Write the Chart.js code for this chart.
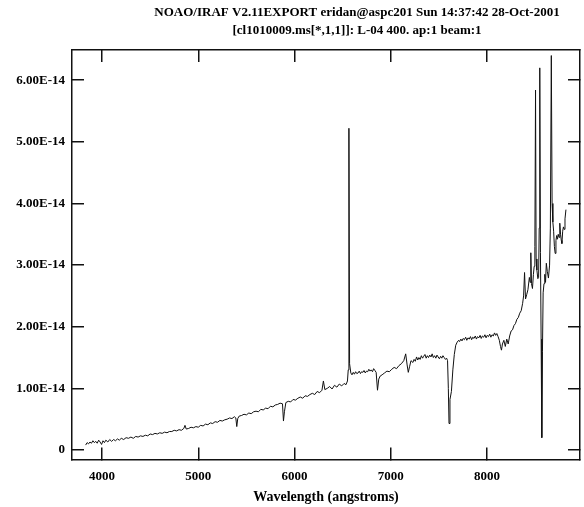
<!DOCTYPE html>
<html>
<head>
<meta charset="utf-8">
<script src="https://cdn.jsdelivr.net/npm/chart.js@4"></script>
<style>
  body { margin: 0; background: #fff; }
  canvas { display: block; }
</style>
</head>
<body>
<canvas id="specChart" width="584" height="507"></canvas>
<script>
// header lines printed above the plot
var headerLines = [
  "NOAO/IRAF V2.11EXPORT eridan@aspc201 Sun 14:37:42 28-Oct-2001",
  "[cl1010009.ms[*,1,1]]: L-04 400. ap:1 beam:1"
];
var xTitle = "Wavelength (angstroms)";

// axis ranges (flux is in units of 1E-14)
var waveRange = [3688, 8966];
var fluxRange = [-0.154, 6.49];
var waveTicks = [4000, 5000, 6000, 7000, 8000];
var fluxTicks = [0, 1, 2, 3, 4, 5, 6];

// spectrum
var wavelength = [
  3830, 3845, 3860, 3875, 3890, 3905, 3920, 3935, 3950, 3965, 3980, 3995, 4010, 4025, 4040, 4060,
  4080, 4100, 4120, 4140, 4160, 4180, 4200, 4225, 4250, 4275, 4300, 4325, 4350, 4375, 4400, 4425,
  4450, 4475, 4500, 4525, 4550, 4575, 4600, 4625, 4650, 4675, 4700, 4725, 4750, 4775, 4800, 4825,
  4850, 4862, 4875, 4900, 4925, 4950, 4975, 5000, 5025, 5050, 5075, 5100, 5125, 5150, 5175, 5200,
  5225, 5250, 5275, 5300, 5325, 5350, 5375, 5390, 5400, 5410, 5425, 5450, 5475, 5500, 5525, 5550,
  5575, 5600, 5625, 5650, 5675, 5700, 5725, 5750, 5775, 5800, 5825, 5850, 5875, 5885, 5895, 5910,
  5935, 5960, 5985, 6010, 6035, 6060, 6085, 6110, 6135, 6160, 6185, 6210, 6235, 6260, 6285, 6300,
  6315, 6340, 6365, 6390, 6415, 6440, 6465, 6490, 6515, 6535, 6550, 6558, 6565, 6572, 6585,
  6597, 6610, 6622, 6635, 6647, 6660, 6672, 6685, 6697, 6710, 6722, 6735, 6747, 6760, 6772, 6785,
  6797, 6810, 6822, 6835, 6848,
  6862, 6875, 6890, 6910, 6935, 6960, 6985, 7010, 7035, 7060, 7085, 7110, 7135, 7155, 7170, 7182,
  7195, 7210,
  7230, 7242, 7255, 7268, 7280, 7292, 7305, 7318, 7330, 7342, 7355, 7368, 7380, 7392, 7405,
  7418, 7430, 7442, 7455, 7468, 7480, 7492, 7505, 7518, 7530, 7542, 7555, 7568, 7580, 7590,
  7598, 7605, 7615, 7630, 7645, 7660, 7675, 7690, 7705,
  7715, 7728, 7740, 7752, 7765, 7778, 7790, 7802, 7815, 7828, 7840, 7852, 7865, 7878, 7890, 7902,
  7915, 7928, 7940, 7952, 7965, 7978, 7990, 8002, 8015, 8028, 8040, 8052, 8065, 8078, 8090, 8102,
  8115, 8128,
  8140, 8150, 8160, 8175, 8190, 8205, 8220, 8235, 8250, 8265, 8280, 8295, 8310, 8325, 8340, 8355,
  8370, 8380,
  8390, 8400, 8412, 8425, 8440, 8448, 8455, 8462, 8472, 8482, 8490, 8497, 8504, 8510, 8518, 8528,
  8536, 8542, 8548, 8555, 8562, 8569, 8576, 8583, 8592, 8600, 8608, 8616, 8626, 8638, 8650, 8658,
  8668, 8676, 8684, 8692, 8700, 8708, 8716, 8724, 8732, 8740, 8748, 8756, 8764, 8772, 8778, 8786,
  8794, 8802, 8810, 8820
];
var fluxE14 = [
  0.08, 0.12, 0.10, 0.13, 0.11, 0.15, 0.12, 0.14, 0.11, 0.16, 0.13, 0.09, 0.15, 0.12, 0.16, 0.13,
  0.17, 0.14, 0.17, 0.15, 0.18, 0.16, 0.19, 0.17, 0.20, 0.19, 0.21, 0.19, 0.22, 0.21, 0.23, 0.22,
  0.24, 0.23, 0.26, 0.25, 0.27, 0.26, 0.28, 0.27, 0.29, 0.28, 0.30, 0.30, 0.32, 0.31, 0.33, 0.32,
  0.35, 0.40, 0.34, 0.35, 0.37, 0.36, 0.38, 0.37, 0.40, 0.39, 0.42, 0.41, 0.44, 0.43, 0.46, 0.45,
  0.48, 0.47, 0.49, 0.50, 0.52, 0.51, 0.54, 0.52, 0.38, 0.51, 0.55, 0.56, 0.58, 0.57, 0.60, 0.59,
  0.62, 0.63, 0.62, 0.66, 0.65, 0.68, 0.67, 0.71, 0.70, 0.73, 0.74, 0.76, 0.75, 0.47, 0.62, 0.77,
  0.79, 0.78, 0.82, 0.81, 0.84, 0.86, 0.84, 0.88, 0.87, 0.90, 0.92, 0.90, 0.95, 0.93, 0.97, 1.12,
  0.98, 1.00, 1.03, 0.99, 1.05, 1.02, 1.07, 1.04, 1.08, 1.06, 1.12, 1.30, 5.22, 1.40, 1.25,
  1.22, 1.26, 1.23, 1.27, 1.24, 1.25, 1.28, 1.24, 1.27, 1.26, 1.29, 1.25, 1.28, 1.27, 1.31, 1.28,
  1.30, 1.27, 1.32, 1.29, 1.26,
  0.97, 1.15, 1.20, 1.22, 1.25, 1.28, 1.27, 1.31, 1.34, 1.32, 1.37, 1.40, 1.45, 1.56, 1.38, 1.26,
  1.35, 1.45,
  1.42, 1.47, 1.44, 1.51, 1.46, 1.50, 1.47, 1.53, 1.49, 1.52, 1.55, 1.49, 1.53, 1.50, 1.54,
  1.51, 1.56, 1.50, 1.53, 1.49, 1.54, 1.51, 1.48, 1.52, 1.49, 1.53, 1.50, 1.47, 1.49, 1.45,
  1.00, 0.43, 0.82, 0.95, 1.30, 1.55, 1.70, 1.75, 1.78,
  1.76, 1.80, 1.77, 1.81, 1.79, 1.83, 1.78, 1.82, 1.80, 1.84, 1.79, 1.83, 1.81, 1.85, 1.80, 1.84,
  1.82, 1.86, 1.81, 1.85, 1.83, 1.87, 1.82, 1.86, 1.84, 1.88, 1.83, 1.87, 1.85, 1.90, 1.86, 1.89,
  1.84, 1.78,
  1.68, 1.62, 1.72, 1.78, 1.68, 1.80, 1.72, 1.85, 1.93, 1.95, 2.02, 2.05, 2.12, 2.15, 2.22, 2.26,
  2.38, 2.50,
  2.88, 2.45, 2.52, 2.60, 2.80, 2.72, 3.20, 2.70, 2.62, 2.85, 2.98, 3.30, 5.84, 3.10, 2.92, 2.78,
  2.80, 3.60, 6.20, 3.20, 1.80, 0.20, 1.60, 2.55, 2.70, 2.85, 2.72, 3.03, 2.90, 2.79, 3.00, 3.60,
  6.40, 4.00, 3.70, 3.55, 3.30, 3.19, 3.40, 3.48, 3.42, 3.50, 3.45, 3.68, 3.50, 3.40, 3.35, 3.55,
  3.62, 3.58, 3.75, 3.90
];

var serifFont = "'Liberation Serif', 'DejaVu Serif', serif";

//draws the two IRAF header lines
const headerPlugin = {
  id: "irafHeader",
  afterDraw: (chart) => {
    let ctx = chart.ctx;
    ctx.save();
    ctx.fillStyle = "#000";
    ctx.font = "bold 13px " + serifFont;
    ctx.textAlign = "center";
    ctx.textBaseline = "middle";
    ctx.fillText(headerLines[0], 357, 13);
    ctx.fillText(headerLines[1], 357, 31);
    ctx.restore();
  }
};

function fluxLabel(v) {
  if (Math.abs(v) < 1e-9) return "0";
  return v.toFixed(2) + "E-14";
}

var points = wavelength.map(function(w, i) { return { x: w, y: fluxE14[i] }; });

// frame + inward tick marks, shared by the four axes
function frameGrid() {
  return { drawOnChartArea: false, drawTicks: true, tickLength: -12, color: "#111", lineWidth: 1.5 };
}
var frameBorder = { display: true, color: "#111", width: 1.5 };

var chart = new Chart(document.getElementById("specChart"), {
  type: "line",
  data: {
    datasets: [{
      data: points,
      borderColor: "#111",
      borderWidth: 1,
      pointRadius: 0,
      tension: 0,
      fill: false
    }]
  },
  options: {
    responsive: false,
    animation: false,
    layout: { padding: { top: 50, right: 4, bottom: 0, left: 0 } },
    plugins: {
      legend: { display: false },
      tooltip: { enabled: false }
    },
    scales: {
      x: {
        type: "linear",
        position: "bottom",
        min: waveRange[0],
        max: waveRange[1],
        grid: frameGrid(),
        border: frameBorder,
        afterBuildTicks: (s) => { s.ticks = waveTicks.map(v => ({ value: v })); },
        afterFit: (s) => { s.height = 47.5; },
        ticks: {
          padding: 21,
          color: "#000",
          font: { family: serifFont, size: 13, weight: "bold" },
          maxRotation: 0,
          callback: (v) => String(v)
        },
        title: {
          display: true,
          text: xTitle,
          color: "#000",
          font: { family: serifFont, size: 14, weight: "bold" },
          padding: { top: 0, bottom: 1 }
        }
      },
      x2: {
        type: "linear",
        position: "top",
        display: true,
        min: waveRange[0],
        max: waveRange[1],
        grid: frameGrid(),
        border: frameBorder,
        afterBuildTicks: (s) => { s.ticks = waveTicks.map(v => ({ value: v })); },
        afterFit: (s) => { s.height = 0; },
        ticks: { display: false }
      },
      y: {
        type: "linear",
        position: "left",
        min: fluxRange[0],
        max: fluxRange[1],
        grid: frameGrid(),
        border: frameBorder,
        afterBuildTicks: (s) => { s.ticks = fluxTicks.map(v => ({ value: v })); },
        afterFit: (s) => { s.width = 72; },
        ticks: {
          padding: 19,
          color: "#000",
          font: { family: serifFont, size: 13, weight: "bold" },
          callback: fluxLabel
        }
      },
      y2: {
        type: "linear",
        position: "right",
        display: true,
        min: fluxRange[0],
        max: fluxRange[1],
        grid: frameGrid(),
        border: frameBorder,
        afterBuildTicks: (s) => { s.ticks = fluxTicks.map(v => ({ value: v })); },
        afterFit: (s) => { s.width = 0; },
        ticks: { display: false }
      }
    }
  },
  plugins: [headerPlugin]
});
</script>
</body>
</html>
